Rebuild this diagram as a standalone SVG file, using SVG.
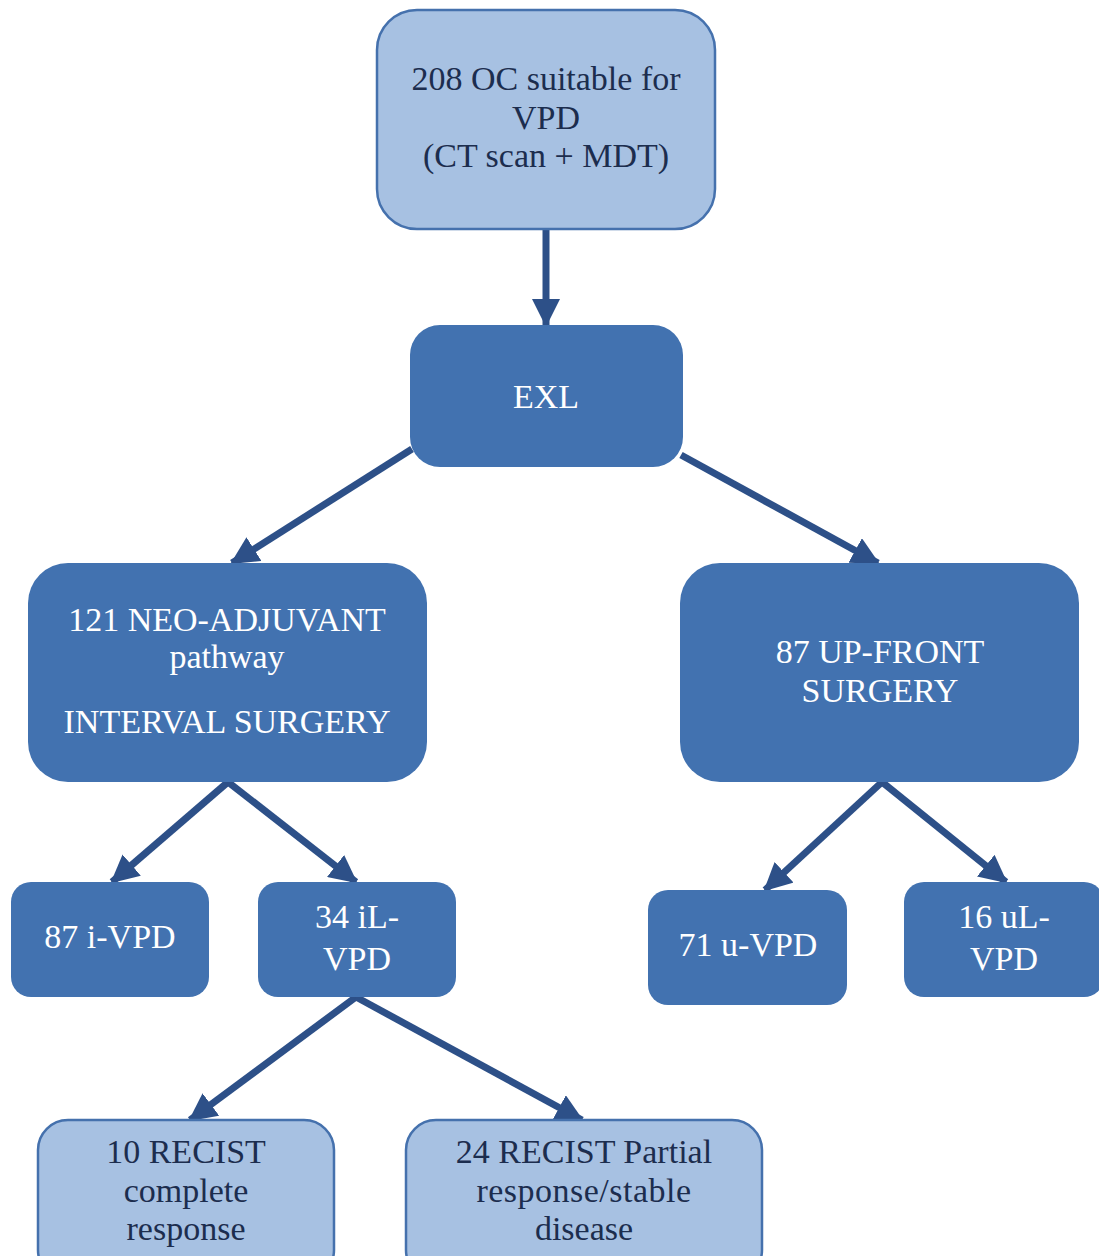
<svg xmlns="http://www.w3.org/2000/svg" width="1099" height="1256" viewBox="0 0 1099 1256">
<defs>
<marker id="ah" markerUnits="userSpaceOnUse" markerWidth="28" markerHeight="28" viewBox="0 0 28 28" refX="26" refY="14" orient="auto">
<path d="M0,0 L28,14 L0,28 Z" fill="#2d5088"/>
</marker>
<style>
.light{fill:#a7c1e2;stroke:#4571ad;stroke-width:2.5}
.dark{fill:#4272b0}
.tl{font-family:"Liberation Serif","Times New Roman",serif;font-size:34px;fill:#1c2d4e;text-anchor:middle}
.td{font-family:"Liberation Serif","Times New Roman",serif;font-size:34px;fill:#ffffff;text-anchor:middle}
.conn{stroke:#2d5088;stroke-width:7;fill:none;marker-end:url(#ah)}
</style>
</defs>
<rect width="1099" height="1256" fill="#ffffff"/>
<g id="connectors">
<line class="conn" x1="546" y1="229" x2="546" y2="325"/>
<line class="conn" x1="412" y1="449" x2="232" y2="563"/>
<line class="conn" x1="681" y1="455" x2="878" y2="563"/>
<line class="conn" x1="228" y1="782" x2="112" y2="882"/>
<line class="conn" x1="228" y1="782" x2="356" y2="882"/>
<line class="conn" x1="882" y1="782" x2="765" y2="890"/>
<line class="conn" x1="882" y1="782" x2="1006" y2="882"/>
<line class="conn" x1="356" y1="997" x2="190" y2="1120"/>
<line class="conn" x1="356" y1="997" x2="582" y2="1120"/>
</g>
<g id="n-top">
<rect class="light" x="377" y="10" width="338" height="219" rx="40"/>
<text class="tl" x="546" y="90">208 OC suitable for</text>
<text class="tl" x="546" y="129">VPD</text>
<text class="tl" x="546" y="167">(CT scan + MDT)</text>
</g>
<g id="n-exl">
<rect class="dark" x="410" y="325" width="273" height="142" rx="30"/>
<text class="td" x="546" y="408" font-size="38">EXL</text>
</g>
<g id="n-neo">
<rect class="dark" x="28" y="563" width="399" height="219" rx="40"/>
<text class="td" x="227" y="631" font-size="33">121 NEO-ADJUVANT</text>
<text class="td" x="227" y="668" font-size="33">pathway</text>
<text class="td" x="227" y="733" font-size="33">INTERVAL SURGERY</text>
</g>
<g id="n-upfront">
<rect class="dark" x="680" y="563" width="399" height="219" rx="40"/>
<text class="td" x="880" y="663" font-size="33">87 UP-FRONT</text>
<text class="td" x="880" y="702" font-size="33">SURGERY</text>
</g>
<g id="n-ivpd">
<rect class="dark" x="11" y="882" width="198" height="115" rx="20"/>
<text class="td" x="110" y="948" font-size="35">87 i-VPD</text>
</g>
<g id="n-ilvpd">
<rect class="dark" x="258" y="882" width="198" height="115" rx="20"/>
<text class="td" x="357" y="928" font-size="35">34 iL-</text>
<text class="td" x="357" y="970" font-size="35">VPD</text>
</g>
<g id="n-uvpd">
<rect class="dark" x="648" y="890" width="199" height="115" rx="20"/>
<text class="td" x="748" y="956" font-size="35">71 u-VPD</text>
</g>
<g id="n-ulvpd">
<rect class="dark" x="904" y="882" width="200" height="115" rx="20"/>
<text class="td" x="1004" y="928" font-size="35">16 uL-</text>
<text class="td" x="1004" y="970" font-size="35">VPD</text>
</g>
<g id="n-complete">
<rect class="light" x="38" y="1120" width="296" height="160" rx="30"/>
<text class="tl" x="186" y="1163">10 RECIST</text>
<text class="tl" x="186" y="1202">complete</text>
<text class="tl" x="186" y="1240">response</text>
</g>
<g id="n-partial">
<rect class="light" x="406" y="1120" width="356" height="160" rx="30"/>
<text class="tl" x="584" y="1163">24 RECIST Partial</text>
<text class="tl" x="584" y="1202" letter-spacing="0.5">response/stable</text>
<text class="tl" x="584" y="1240">disease</text>
</g>
</svg>
